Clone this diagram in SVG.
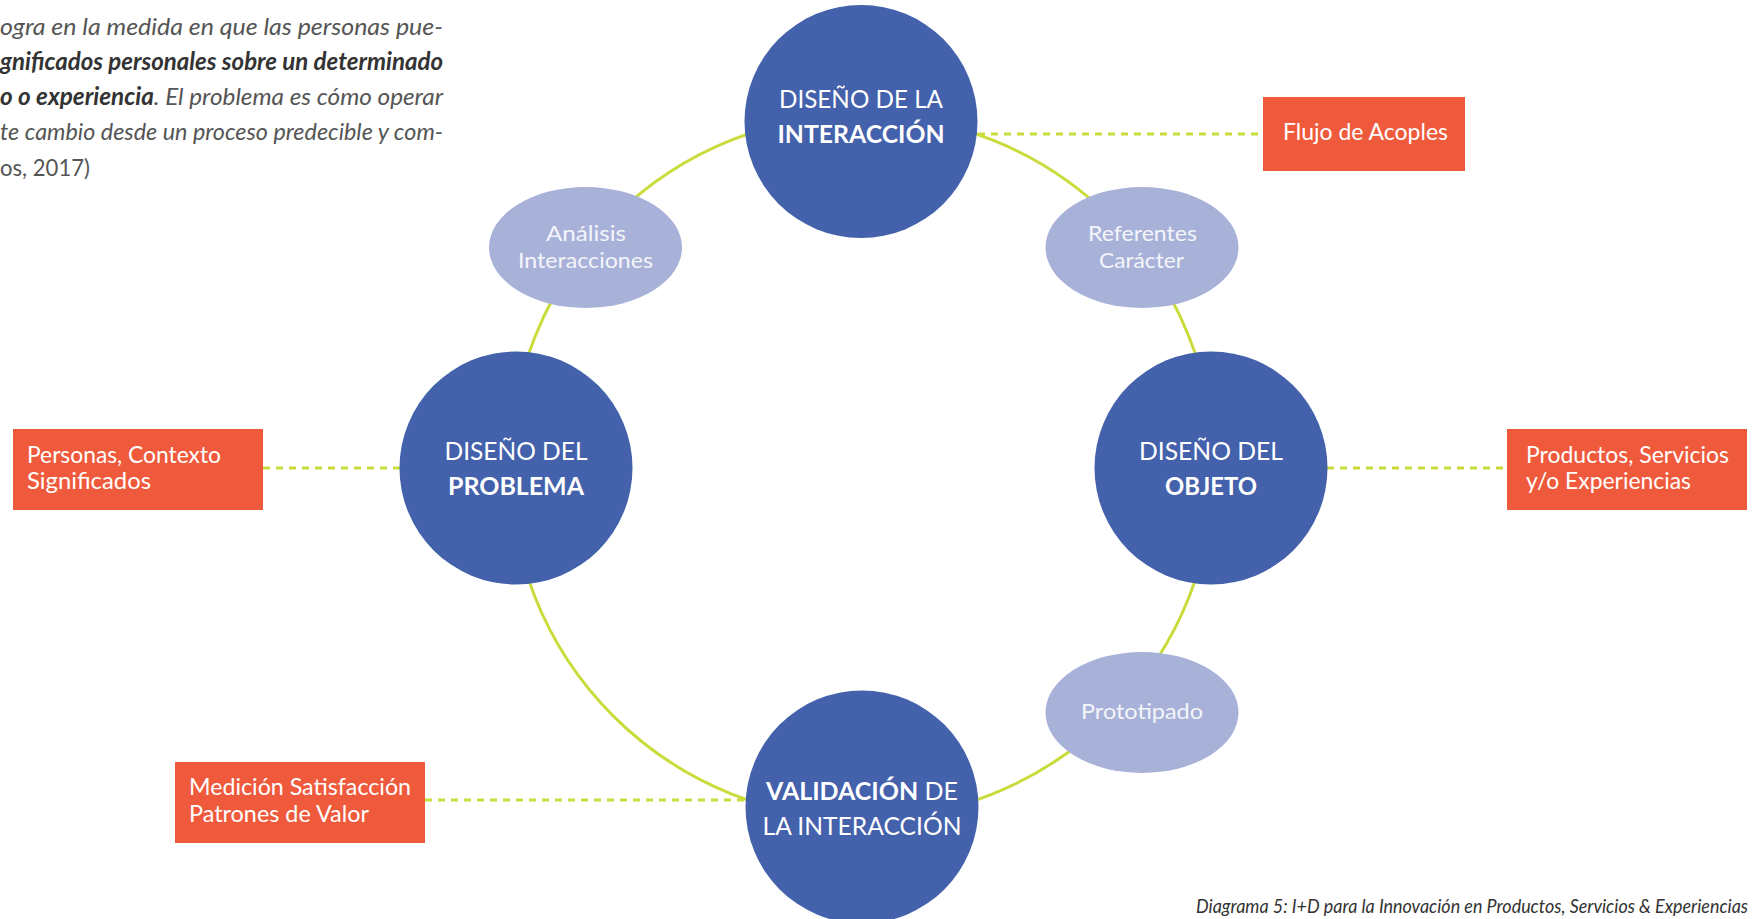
<svg xmlns="http://www.w3.org/2000/svg" width="1756" height="919" viewBox="0 0 1756 919">
<style>
.ring{fill:none;stroke:#c9dc3c;stroke-width:3}
.dash{fill:none;stroke:#c9dc3c;stroke-width:3;stroke-dasharray:7 6}
.big{fill:#4461ab}
.small{fill:#a8b2d8}
.box{fill:#f05a3c}
.ct{font-family:Lato,"Open Sans",sans-serif;font-size:25px;fill:#fff;text-anchor:middle}
.b{font-weight:bold}
.et{font-family:Lato,"Open Sans",sans-serif;font-size:22px;fill:#f4f5fb;text-anchor:middle}
.rt{font-family:Lato,"Open Sans",sans-serif;font-size:23px;fill:#fff}
.para{font-family:Lato,"Open Sans",sans-serif;font-size:24px;font-style:italic;fill:#555}
.pb{font-weight:bold;fill:#333}
.cap{font-family:Lato,"Open Sans",sans-serif;font-size:19px;font-style:italic;fill:#333}
</style>
<g id="paragraph">
<text class="para" x="443" y="35" text-anchor="end" textLength="443" lengthAdjust="spacingAndGlyphs">ogra en la medida en que las personas pue-</text>
<text class="para pb" x="443" y="70" text-anchor="end" textLength="443" lengthAdjust="spacingAndGlyphs">gnificados personales sobre un determinado</text>
<text class="para" x="443" y="105" text-anchor="end" textLength="443" lengthAdjust="spacingAndGlyphs"><tspan class="pb">o o experiencia</tspan>. El problema es cómo operar</text>
<text class="para" x="443" y="140" text-anchor="end" textLength="443" lengthAdjust="spacingAndGlyphs">te cambio desde un proceso predecible y com-</text>
<text class="para" x="0" y="176" style="font-style:normal" textLength="90" lengthAdjust="spacingAndGlyphs">os, 2017)</text>
</g>
<g id="connectors">
<circle class="ring" cx="862" cy="467" r="352"/>
<line class="dash" x1="978" y1="134" x2="1263" y2="134"/>
<line class="dash" x1="263" y1="468" x2="400" y2="468"/>
<line class="dash" x1="1327" y1="468" x2="1507" y2="468"/>
<line class="dash" x1="425" y1="800" x2="746" y2="800"/>
</g>
<g id="node-interaccion">
<circle class="big" cx="861" cy="121.5" r="116.5"/>
<text class="ct" x="861" y="108" textLength="164" lengthAdjust="spacingAndGlyphs">DISEÑO DE LA</text>
<text class="ct b" x="861" y="143" textLength="167" lengthAdjust="spacingAndGlyphs">INTERACCIÓN</text>
</g>
<g id="node-problema">
<circle class="big" cx="516" cy="468" r="116.5"/>
<text class="ct" x="516" y="460" textLength="143" lengthAdjust="spacingAndGlyphs">DISEÑO DEL</text>
<text class="ct b" x="516" y="495" textLength="136" lengthAdjust="spacingAndGlyphs">PROBLEMA</text>
</g>
<g id="node-objeto">
<circle class="big" cx="1211" cy="468" r="116.5"/>
<text class="ct" x="1211" y="460" textLength="144" lengthAdjust="spacingAndGlyphs">DISEÑO DEL</text>
<text class="ct b" x="1211" y="495" textLength="92" lengthAdjust="spacingAndGlyphs">OBJETO</text>
</g>
<g id="node-validacion">
<circle class="big" cx="862" cy="807" r="116.5"/>
<text class="ct" x="862" y="800" textLength="192" lengthAdjust="spacingAndGlyphs"><tspan class="b">VALIDACIÓN</tspan> DE</text>
<text class="ct" x="862" y="835" textLength="199" lengthAdjust="spacingAndGlyphs">LA INTERACCIÓN</text>
</g>
<g id="node-analisis">
<ellipse class="small" cx="585.5" cy="247.5" rx="96.5" ry="60.5"/>
<text class="et" x="586" y="241" textLength="80" lengthAdjust="spacingAndGlyphs">Análisis</text>
<text class="et" x="585.5" y="268" textLength="135" lengthAdjust="spacingAndGlyphs">Interacciones</text>
</g>
<g id="node-referentes">
<ellipse class="small" cx="1142" cy="247.5" rx="96.5" ry="60.5"/>
<text class="et" x="1142.5" y="241" textLength="109" lengthAdjust="spacingAndGlyphs">Referentes</text>
<text class="et" x="1141.5" y="268" textLength="85" lengthAdjust="spacingAndGlyphs">Carácter</text>
</g>
<g id="node-prototipado">
<ellipse class="small" cx="1142" cy="712.5" rx="96.5" ry="60.5"/>
<text class="et" x="1142" y="719" textLength="122" lengthAdjust="spacingAndGlyphs">Prototipado</text>
</g>
<g id="node-flujo">
<rect class="box" x="1263" y="97" width="202" height="74"/>
<text class="rt" x="1283" y="140" textLength="165" lengthAdjust="spacingAndGlyphs">Flujo de Acoples</text>
</g>
<g id="node-personas">
<rect class="box" x="13" y="429" width="250" height="81"/>
<text class="rt" x="27" y="463" textLength="194" lengthAdjust="spacingAndGlyphs">Personas, Contexto</text>
<text class="rt" x="27" y="489" textLength="124" lengthAdjust="spacingAndGlyphs">Significados</text>
</g>
<g id="node-productos">
<rect class="box" x="1507" y="429" width="240" height="81"/>
<text class="rt" x="1526" y="463" textLength="203" lengthAdjust="spacingAndGlyphs">Productos, Servicios</text>
<text class="rt" x="1526" y="489" textLength="165" lengthAdjust="spacingAndGlyphs">y/o Experiencias</text>
</g>
<g id="node-medicion">
<rect class="box" x="175" y="762" width="250" height="81"/>
<text class="rt" x="189" y="795" textLength="222" lengthAdjust="spacingAndGlyphs">Medición Satisfacción</text>
<text class="rt" x="189" y="822" textLength="180" lengthAdjust="spacingAndGlyphs">Patrones de Valor</text>
</g>
<g id="caption">
<text class="cap" x="1748" y="913" text-anchor="end" textLength="552" lengthAdjust="spacingAndGlyphs">Diagrama 5: I+D para la Innovación en Productos, Servicios &amp; Experiencias</text>
</g>
</svg>
